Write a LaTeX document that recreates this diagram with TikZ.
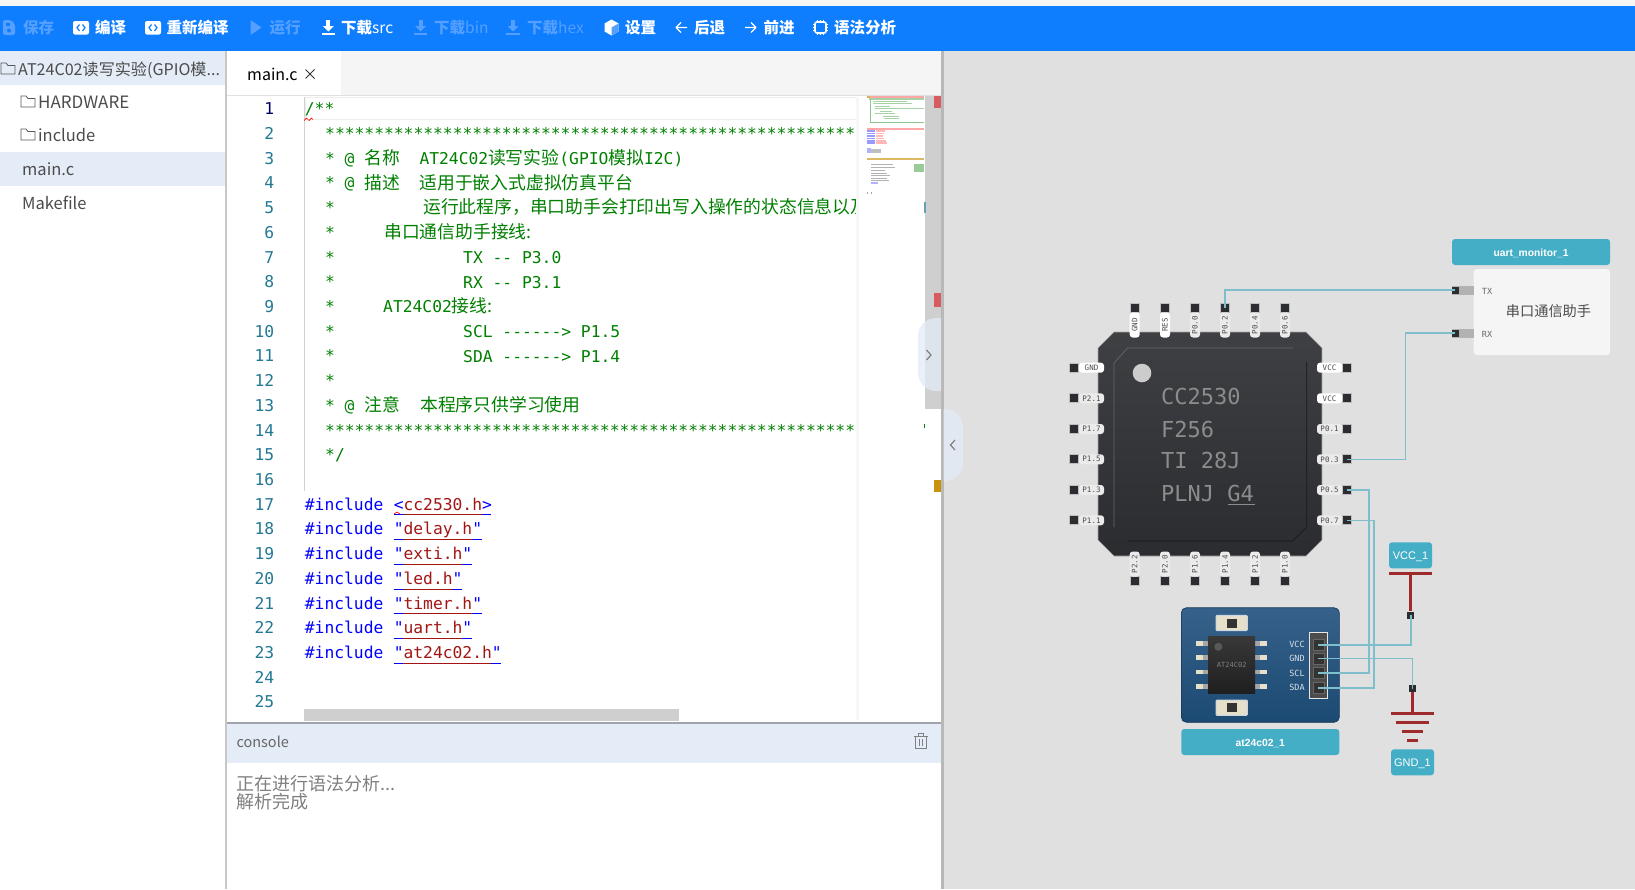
\documentclass[tikz,border=0pt]{standalone}
\usepackage{fontspec}
\setmainfont{Noto Sans CJK SC}
\newfontfamily\codefont{DejaVu Sans Mono}
\newfontfamily\cnfont{Noto Sans CJK SC}
\newfontfamily\tagfont{Liberation Sans}
\usetikzlibrary{shapes.geometric, arrows}
\definecolor{toolblue}{HTML}{0E7EFF}
\definecolor{tooloff}{HTML}{549FFF}
\definecolor{rowblue}{HTML}{E4ECF7}
\definecolor{cmtgreen}{HTML}{008000}
\definecolor{numteal}{HTML}{237893}
\definecolor{strred}{HTML}{A31515}
\definecolor{canvasgray}{HTML}{E0E0E0}
\definecolor{wireblue}{HTML}{7FBECB}
\definecolor{tagblue}{HTML}{44AEC6}
\definecolor{powerred}{HTML}{9E2A2B}
\definecolor{pindark}{HTML}{2B2D30}
\definecolor{barred}{HTML}{D85B5F}
\definecolor{bargold}{HTML}{C8920C}
\definecolor{chiptop}{HTML}{3E4044}
\definecolor{chipbot}{HTML}{2A2C30}
\definecolor{boardtop}{HTML}{36618A}
\definecolor{boardbot}{HTML}{1B4A72}
\definecolor{padcream}{HTML}{E6DFC9}
\tikzstyle{toolitem} = [anchor=west, inner sep=0pt, text=white, font=\bfseries\fontsize{15.5}{18}\selectfont]
\tikzstyle{toolitemoff} = [toolitem, text=tooloff]
\tikzstyle{treeitem} = [anchor=west, inner sep=0pt, text=black!70, font=\fontsize{16.5}{20}\selectfont]
\tikzstyle{lineno} = [anchor=base east, inner sep=0pt, text=numteal, font=\codefont\fontsize{16.3}{20}\selectfont]
\tikzstyle{codeline} = [anchor=base west, inner sep=0pt, text=cmtgreen, font=\codefont\fontsize{16.3}{20}\selectfont]
\tikzstyle{chipline} = [anchor=base west, inner sep=0pt, text=black!45, font=\codefont\fontsize{22}{24}\selectfont]
\tikzstyle{pinsq} = [rectangle, inner sep=0pt, minimum size=9pt, fill=pindark, draw=black!25, line width=1pt]
\tikzstyle{pill} = [rectangle, rounded corners=3pt, inner sep=0pt, minimum width=25pt, minimum height=10pt, text=black!70, font=\codefont\fontsize{7.5}{8}\selectfont]
\tikzstyle{tagbox} = [rectangle, rounded corners=3pt, inner sep=0pt, text height=8pt, text depth=0pt, fill=tagblue, text=white, font=\tagfont\bfseries\fontsize{10.3}{13}\selectfont]
\tikzstyle{powertag} = [tagbox, minimum width=43pt, minimum height=26pt, font=\tagfont\fontsize{11}{14}\selectfont]
\tikzstyle{wire} = [wireblue, line width=1.6pt]
\tikzstyle{power} = [powerred, line width=3.5pt]
\tikzstyle{smalllab} = [inner sep=0pt, text=black!60, font=\codefont\fontsize{8.5}{10}\selectfont]
\newcommand{\cn}[1]{{\cnfont\fontsize{17.8}{20}\selectfont #1}}
\newcommand{\stars}{************************************************************}
\begin{document}
\begin{tikzpicture}[x=1pt, y=-1pt]
	\useasboundingbox (0,0) rectangle (1635,889);
	\fill [white] (0,0) rectangle (1635,889);
	\fill [black!4] (0,0) rectangle (1635,6);
	\fill [canvasgray] (943,50) rectangle (1635,889);
	
	% toolbar
	\fill [toolblue] (0,6) rectangle (1635,50.5);
	\node (tsave) [toolitemoff] at (23,27.5) {保存};
	\node (tbuild) [toolitem] at (95,27.5) {编译};
	\node (trebuild) [toolitem] at (166.5,27.5) {重新编译};
	\node (trun) [toolitemoff] at (269.5,27.5) {运行};
	\node (tsrc) [toolitem] at (341,27.5) {下载{\mdseries src}};
	\node (tbin) [toolitemoff] at (434,27.5) {下载{\mdseries bin}};
	\node (thex) [toolitemoff] at (527,27.5) {下载{\mdseries hex}};
	\node (tset) [toolitem] at (625,27.5) {设置};
	\node (tback) [toolitem] at (694,27.5) {后退};
	\node (tfwd) [toolitem] at (763.5,27.5) {前进};
	\node (tsyn) [toolitem] at (834,27.5) {语法分析};
	
	\fill [tooloff, rounded corners=2pt] (3,20) -- (11,20) -- (15,24) -- (15,35) -- (3,35) -- cycle;
	\fill [toolblue] (6,23) rectangle (10,26);
	\fill [toolblue] (9,30.5) circle (2pt);
	\foreach \x in {73,145} {
		\fill [white, rounded corners=2pt] (\x,21) rectangle ++(16,13.5);
		\draw [toolblue, line width=1.2pt] (\x+6.5,24.5) -- ++(-2.5,3.2) -- ++(2.5,3.2);
		\draw [toolblue, line width=1.2pt] (\x+9.5,24.5) -- ++(2.5,3.2) -- ++(-2.5,3.2);
	}
	\fill [tooloff] (250.5,20) -- (261.5,27.5) -- (250.5,35) -- cycle;
	\foreach \x/\c in {328.3/white,420.6/tooloff,513/tooloff} {
		\fill [\c] (\x-2,20) rectangle (\x+2,26);
		\fill [\c] (\x-5.5,26) -- (\x+5.5,26) -- (\x,31.5) -- cycle;
		\fill [\c] (\x-6.8,33) rectangle (\x+6.8,35);
	}
	\fill [white] (611.5,19.5) -- (618.5,23.5) -- (618.5,31.5) -- (611.5,35.5) -- (604.5,31.5) -- (604.5,23.5) -- cycle;
	\fill [tooloff] (611.5,27.5) -- (618.5,23.5) -- (618.5,31.5) -- (611.5,35.5) -- cycle;
	\draw [white, line width=1.2pt, line join=round] (681,22.5) -- (676,27.5) -- (681,32.5) (676,27.5) -- (687,27.5);
	\draw [white, line width=1.2pt, line join=round] (751,22.5) -- (756,27.5) -- (751,32.5) (756,27.5) -- (745,27.5);
	\draw [white, line width=1.6pt, rounded corners=2pt] (815,22) rectangle (826,33);
	\foreach \t in {2.5,5.5,8.5} {
		\draw [white, line width=1pt] (812.8,22+\t) -- (815,22+\t) (826,22+\t) -- (828.2,22+\t);
		\draw [white, line width=1pt] (815+\t,19.8) -- (815+\t,22) (815+\t,33) -- (815+\t,35.2);
	}
	
	% file tree
	\fill [rowblue] (0,50.5) rectangle (225,85);
	\fill [rowblue] (0,152) rectangle (225,186);
	\node (froot) [treeitem, font=\fontsize{16.1}{20}\selectfont] at (18,70) {AT24C02读写实验(GPIO模...};
	\node (fhw) [treeitem, font=\fontsize{17}{20}\selectfont] at (38,102) {HARDWARE};
	\node (finc) [treeitem] at (38,135) {include};
	\node (fmain) [treeitem] at (22,169) {main.c};
	\node (fmake) [treeitem] at (22,203) {Makefile};
	\foreach \x/\y in {1/63,21/96,21/129} {
		\draw [black!65, line width=.8pt] (\x,\y+11) -- (\x,\y) -- (\x+5,\y) -- (\x+7,\y+2.5) -- (\x+14,\y+2.5) -- (\x+14,\y+11) -- cycle;
	}
	\fill [black!22] (225,50.5) rectangle (227,889);
	
	% editor tab
	\fill [black!4] (227,50.5) rectangle (941,95);
	\fill [white] (227,50.5) rectangle (341,95);
	\draw [black!12, line width=1pt] (227,95.5) -- (941,95.5);
	\node (tabmain) [treeitem, text=black, font=\fontsize{16}{20}\selectfont] at (247,74) {main.c};
	\draw [black!80, line width=.9pt] (305.5,69.5) -- (314.5,78.5) (314.5,69.5) -- (305.5,78.5);
	
	% code
	\draw [black!7, line width=1.6pt] (305,97.5) rectangle (859,119.5);
	\draw [black!18, line width=.8pt] (304.7,97) -- (304.7,491);
	\node (ln1) [lineno, text=blue!40!black] at (274.5,114.7) {1};
	\foreach \n [evaluate=\n as \ypos using 114.7+24.72*(\n-1)] in {2,...,25} {
		\node (ln\n) [lineno] at (274.5,\ypos) {\n};
	}
	\foreach \n/\x/\txt [evaluate=\n as \ypos using 114.7+24.72*(\n-1)] in {
		1/304.7/{/**},
		2/325/{\stars},
		3/325/{*},
		4/325/{*},
		5/325/{*},
		6/325/{*},
		7/325/{*},
		8/325/{*},
		9/325/{*},
		10/325/{*},
		11/325/{*},
		12/325/{*},
		13/325/{*},
		14/325/{\stars},
		15/325/{*/}} {
		\node (cl\n) [codeline] at (\x,\ypos) {\txt};
	}
	\foreach \n/\x/\txt [evaluate=\n as \ypos using 114.7+24.72*(\n-1)] in {
		3/344.5/{@},
		4/344.5/{@},
		13/344.5/{@}} {
		\node (at\n) [codeline] at (\x,\ypos) {\txt};
	}
	\node (cn3a) [codeline] at (364,164.2) {\cn{名称}};
	\node (cn3b) [codeline] at (419.3,164.2) {AT24C02\cn{读写实验}(GPIO\cn{模拟}I2C)};
	\node (cn4a) [codeline] at (364,189) {\cn{描述}};
	\node (cn4b) [codeline] at (419.3,189) {\cn{适用于嵌入式虚拟仿真平台}};
	\node (cn5) [codeline] at (423,213.8) {\cn{运行此程序，串口助手会打印出写入操作的状态信息以及}};
	\node (cn6) [codeline] at (384,238.5) {\cn{串口通信助手接线:}};
	\node (cn7) [codeline] at (463,263.3) {TX -{}- P3.0};
	\node (cn8) [codeline] at (463,288.1) {RX -{}- P3.1};
	\node (cn9) [codeline] at (383,312.9) {AT24C02\cn{接线:}};
	\node (cn10) [codeline] at (463,337.6) {SCL -{}-{}-{}-{}-{}-> P1.5};
	\node (cn11) [codeline] at (463,362.4) {SDA -{}-{}-{}-{}-{}-> P1.4};
	\node (cn13a) [codeline] at (364,411.9) {\cn{注意}};
	\node (cn13b) [codeline] at (420,411.9) {\cn{本程序只供学习使用}};
	
	\foreach \n/\lq/\name/\rq/\len [evaluate=\n as \ypos using 114.7+24.72*(\n-1)] in {
		17/{<}/{cc2530.h}/{>}/10,
		18/{"}/{delay.h}/{"}/9,
		19/{"}/{exti.h}/{"}/8,
		20/{"}/{led.h}/{"}/7,
		21/{"}/{timer.h}/{"}/9,
		22/{"}/{uart.h}/{"}/8,
		23/{"}/{at24c02.h}/{"}/11} {
		\node (inc\n) [codeline, text=blue] at (304.7,\ypos) {\#include};
		\node (str\n) [codeline, text=blue] at (393.6,\ypos) {\lq\textcolor{strred}{\name}\rq};
		\draw [blue, line width=1pt] (393.6,\ypos+4.7) -- ++(\len*9.78,0);
		\draw [strred, line width=1pt] (403.4,\ypos+4.7) -- ++(\len*9.78-19.56,0);
	}
	\draw [red, line width=.7pt] (304,120.5) -- (306.5,118) -- (309,120.5) -- (311.5,118) -- (313,119.5);
	\draw [red, line width=.7pt] (394,514) -- (397,512) -- (400,514);
	\fill [black!19] (303.8,708.5) rectangle (678.6,720.5);
	
	% minimap
	\fill [black!3] (856,97) rectangle (859,720);
	\fill [white] (859,96) rectangle (925,720);
	\fill [bargold!70] (867,96) rectangle (870,98);
	\fill [red!35] (870,96) rectangle (924,98);
	\fill [green!50!black!35] (869,98) rectangle (924,99.5);
	\draw [green!50!black!45, line width=.7pt] (870,100) -- (870,122) -- (924,122);
	\foreach \y/\xa/\xb in {101/873/907,103.5/873/912,106/875/890,108/875/924,111/880/892,113.5/875/895,116/883/899,118/884/899} {
		\draw [green!50!black!35, line width=1pt] (\xa,\y) -- (\xb,\y);
	}
	\fill [red!35] (867,128) rectangle (924,130);
	\foreach \y/\xb in {131/885,133.5/884,136/883,138.5/884,141/886,143/887} {
		\draw [blue!40, line width=1.6pt] (867,\y) -- (875,\y);
		\draw [red!28, line width=1.4pt] (876,\y) -- (\xb,\y);
	}
	\fill [blue!30] (867,148) rectangle (871,153);
	\fill [black!25] (871,149) rectangle (881,153);
	\fill [bargold!65] (867,158) rectangle (924,160);
	\foreach \y/\xb in {164/893,167/895,170/885,173/887,175.5/890,178/887,180.5/889} {
		\draw [black!30, line width=1pt] (871,\y) -- (\xb,\y);
	}
	\fill [green!50!black!40] (914,164) rectangle (924,172);
	\fill [blue!30] (871,182) rectangle (878,184);
	\fill [black!35] (871,192) rectangle (872,194);
	\fill [black!35] (867,192) rectangle (868,194);
	
	% scroll bar and markers
	\fill [black!19] (925,96) rectangle (941,409);
	\fill [barred] (933.5,96) rectangle (940.5,108);
	\fill [barred] (933.5,293) rectangle (940.5,306.5);
	\fill [bargold] (933.5,480) rectangle (940.5,492);
	\fill [numteal!70] (924,202) rectangle (925.5,213);
	\fill [cmtgreen] (924,424) rectangle (925,428);
	\fill [black!28] (941,50.5) rectangle (943.5,889);
	
	% console
	\fill [rowblue] (227,723) rectangle (941,762.7);
	\fill [black!30!rowblue] (227,722) rectangle (941,724);
	\node (contitle) [treeitem, text=black!60, font=\fontsize{14.5}{18}\selectfont] at (236.3,742) {console};
	\draw [black!50, line width=.9pt] (915.5,736) rectangle (926,748.5) (913.5,736) -- (928,736) (918.5,736) -- (918.5,733.5) -- (923,733.5) -- (923,736) (919.5,739) -- (919.5,745.5) (922.5,739) -- (922.5,745.5);
	\node (conline1) [treeitem, text=black!50, font=\fontsize{18}{20}\selectfont] at (236,783.3) {正在进行语法分析...};
	\node (conline2) [treeitem, text=black!50, font=\fontsize{18}{20}\selectfont] at (236,801.7) {解析完成};
	
	% handles
	\fill [rowblue, opacity=.75] (941,318) [rounded corners=18pt] -- (918,318) -- (918,391) [sharp corners] -- (941,391) -- cycle;
	\draw [black!50, line width=1.2pt] (926.5,350) -- (931,355) -- (926.5,360);
	\fill [rowblue, opacity=.75] (943.5,409) [rounded corners=18pt] -- (963,409) -- (963,481) [sharp corners] -- (943.5,481) -- cycle;
	\draw [black!50, line width=1.2pt] (955,440) -- (950.5,445) -- (955,450);
	
	% chip
	\path [draw=black!35, line width=.6pt, top color=chiptop, bottom color=chipbot] (1114,332) -- (1306,332) -- (1322,348) -- (1322,540) -- (1306,556) -- (1114,556) -- (1098,540) -- (1098,348) -- cycle;
	\draw [black!60, line width=.7pt] (1114,527) -- (1114,363) -- (1127.6,348) -- (1293,348);
	\draw [black!90, line width=.7pt] (1306.7,362) -- (1306.7,527) -- (1292.5,541) -- (1127.6,541);
	\fill [black!20] (1142,373) circle (9.3pt);
	\node (ch1) [chipline] at (1161,404) {CC2530};
	\node (ch2) [chipline] at (1161,437) {F256};
	\node (ch3) [chipline] at (1161,468.7) {TI 28J};
	\node (ch4) [chipline] at (1161,501) {PLNJ G4};
	\draw [black!45, line width=.8pt] (1228,504) -- (1254.5,504);
	
	\foreach \x/\lab/\nm/\c in {1134.7/GND/a1/white,1165/RES/a2/white,1195/P0.0/p00/black!8,1225/P0.2/p02/black!8,1255/P0.4/p04/black!8,1285/P0.6/p06/black!8} {
		\node (\nm) [pinsq] at (\x,307.7) {};
		\node (\nm l) [pill, rotate=90, fill=\c] at (\x,325) {\lab};
	}
	\foreach \x/\lab/\nm in {1134.7/P2.2/b1,1165/P2.0/b2,1195/P1.6/b3,1225/P1.4/b4,1255/P1.2/b5,1285/P1.0/b6} {
		\node (\nm) [pinsq] at (\x,581) {};
		\node (\nm l) [pill, rotate=90, fill=black!8] at (\x,564) {\lab};
	}
	\foreach \y/\lab/\nm/\c in {367.7/GND/l1/white,398.3/P2.1/l2/black!8,429/P1.7/l3/black!8,459.3/P1.5/l4/black!8,490/P1.3/l5/black!8,520.3/P1.1/l6/black!8} {
		\node (\nm) [pinsq] at (1073.5,\y) {};
		\node (\nm l) [pill, fill=\c] at (1091.5,\y) {\lab};
	}
	\foreach \y/\lab/\nm/\c in {367.7/VCC/r1/white,398.3/VCC/r2/white,429/P0.1/p01/black!8,459.3/P0.3/p03/black!8,490/P0.5/p05/black!8,520.3/P0.7/p07/black!8} {
		\node (\nm) [pinsq] at (1346.6,\y) {};
		\node (\nm l) [pill, fill=\c] at (1329.5,\y) {\lab};
	}
	
	% serial monitor
	\node (uarttag) [tagbox, minimum width=158pt, minimum height=26pt] at (1531,252) {uart\_monitor\_1};
	\node (uart) [rectangle, rounded corners=3pt, fill=black!4, minimum width=136.5pt, minimum height=86pt, inner sep=0pt] at (1541.8,312) {};
	\node (uartname) [inner sep=0pt, text=black!70, font=\fontsize{14.2}{16}\selectfont] at (1548.5,310.7) {串口通信助手};
	\node (txlab) [smalllab] at (1487,291.5) {TX};
	\node (rxlab) [smalllab] at (1487,334) {RX};
	\fill [black!30] (1452,285.5) rectangle (1473.5,294.5);
	\fill [black!30] (1452,328.5) rectangle (1473.5,337.5);
	\node (txpin) [rectangle, inner sep=0pt, minimum width=6.5pt, minimum height=7pt, fill=pindark] at (1455.3,290) {};
	\node (rxpin) [rectangle, inner sep=0pt, minimum width=6.5pt, minimum height=7pt, fill=pindark] at (1455.3,333) {};
	
	% eeprom module
	\node (eeprom) [rectangle, rounded corners=5pt, minimum width=158pt, minimum height=114.5pt, inner sep=0pt, top color=boardtop, bottom color=boardbot, draw=boardbot!70!black, line width=.6pt] at (1260.3,665) {};
	\node (eepromtag) [tagbox, minimum width=158pt, minimum height=26pt] at (1260.3,742) {at24c02\_1};
	\foreach \y in {643.7,657.7,672,686.3} {
		\fill [padcream] (1196,\y-2.3) rectangle (1208.5,\y+2.3);
		\fill [padcream] (1254.5,\y-2.3) rectangle (1267.3,\y+2.3);
		\fill [black!35] (1203,\y-2.3) rectangle (1208.5,\y+2.3);
		\fill [black!35] (1254.5,\y-2.3) rectangle (1260,\y+2.3);
	}
	\node (ic) [rectangle, minimum width=46.7pt, minimum height=57.3pt, inner sep=0pt, top color=black!78, bottom color=black!88] at (1231.7,665.3) {};
	\fill [black!65] (1218.3,646.7) circle (4pt);
	\node (iclab) [inner sep=0pt, text=black!50, font=\codefont\fontsize{7}{8}\selectfont] at (ic) {AT24C02};
	\foreach \y in {623,707.7} {
		\fill [padcream, draw=white!75!boardtop, line width=1pt, rounded corners=1pt] (1216,\y-7.7) rectangle (1247.3,\y+7.7);
		\fill [black!80] (1226.7,\y-4.5) rectangle (1237.3,\y+4.5);
	}
	\fill [black!70, draw=black!10, line width=.8pt] (1309,632.7) rectangle (1327,698);
	\foreach \y/\lab/\nm in {644.7/VCC/avcc,658.3/GND/agnd,673/SCL/ascl,687.7/SDA/asda} {
		\node (\nm) [rectangle, inner sep=0pt, minimum size=11pt, fill=black!80, draw=black!60, line width=.5pt] at (1318.3,\y) {};
		\node (\nm l) [smalllab, text=white!80!boardtop] at (1297,\y) {\lab};
	}
	
	% power symbols
	\node (vcctag) [powertag] at (1410.5,555.3) {VCC\_1};
	\node (vccpin) [rectangle, inner sep=0pt, minimum size=7pt, fill=pindark] at (1410.7,615) {};
	\coordinate (vcctop) at (1410.7,573.3);
	\draw [power] (1389,573.3) -- (1432,573.3);
	\draw [power] (vcctop) -- (vccpin);
	\node (gndpin) [rectangle, inner sep=0pt, minimum size=7pt, fill=pindark] at (1412.3,688.7) {};
	\coordinate (gndbar) at (1412.3,713.7);
	\draw [power] (gndpin) -- (gndbar);
	\draw [power] (1391,713.7) -- (1434,713.7);
	\draw [power] (1396,722.7) -- (1428.7,722.7);
	\draw [power] (1401.7,731.7) -- (1423.3,731.7);
	\draw [power] (1407,740.7) -- (1418,740.7);
	\node (gndtag) [powertag] at (1412.5,762.3) {GND\_1};
	
	% wires
	\draw [wire] (p02.center) |- (txpin.center);
	\draw [wire] (p03.center) -- ++(59,0) |- (rxpin.center);
	\draw [wire] (p05.center) -- ++(22.4,0) |- (ascl.center);
	\draw [wire] (p07.center) -- ++(27.4,0) |- (asda.center);
	\draw [wire] (avcc.center) -| (vccpin.center);
	\draw [wire] (agnd.center) -| (gndpin.center);
\end{tikzpicture}
\end{document}
